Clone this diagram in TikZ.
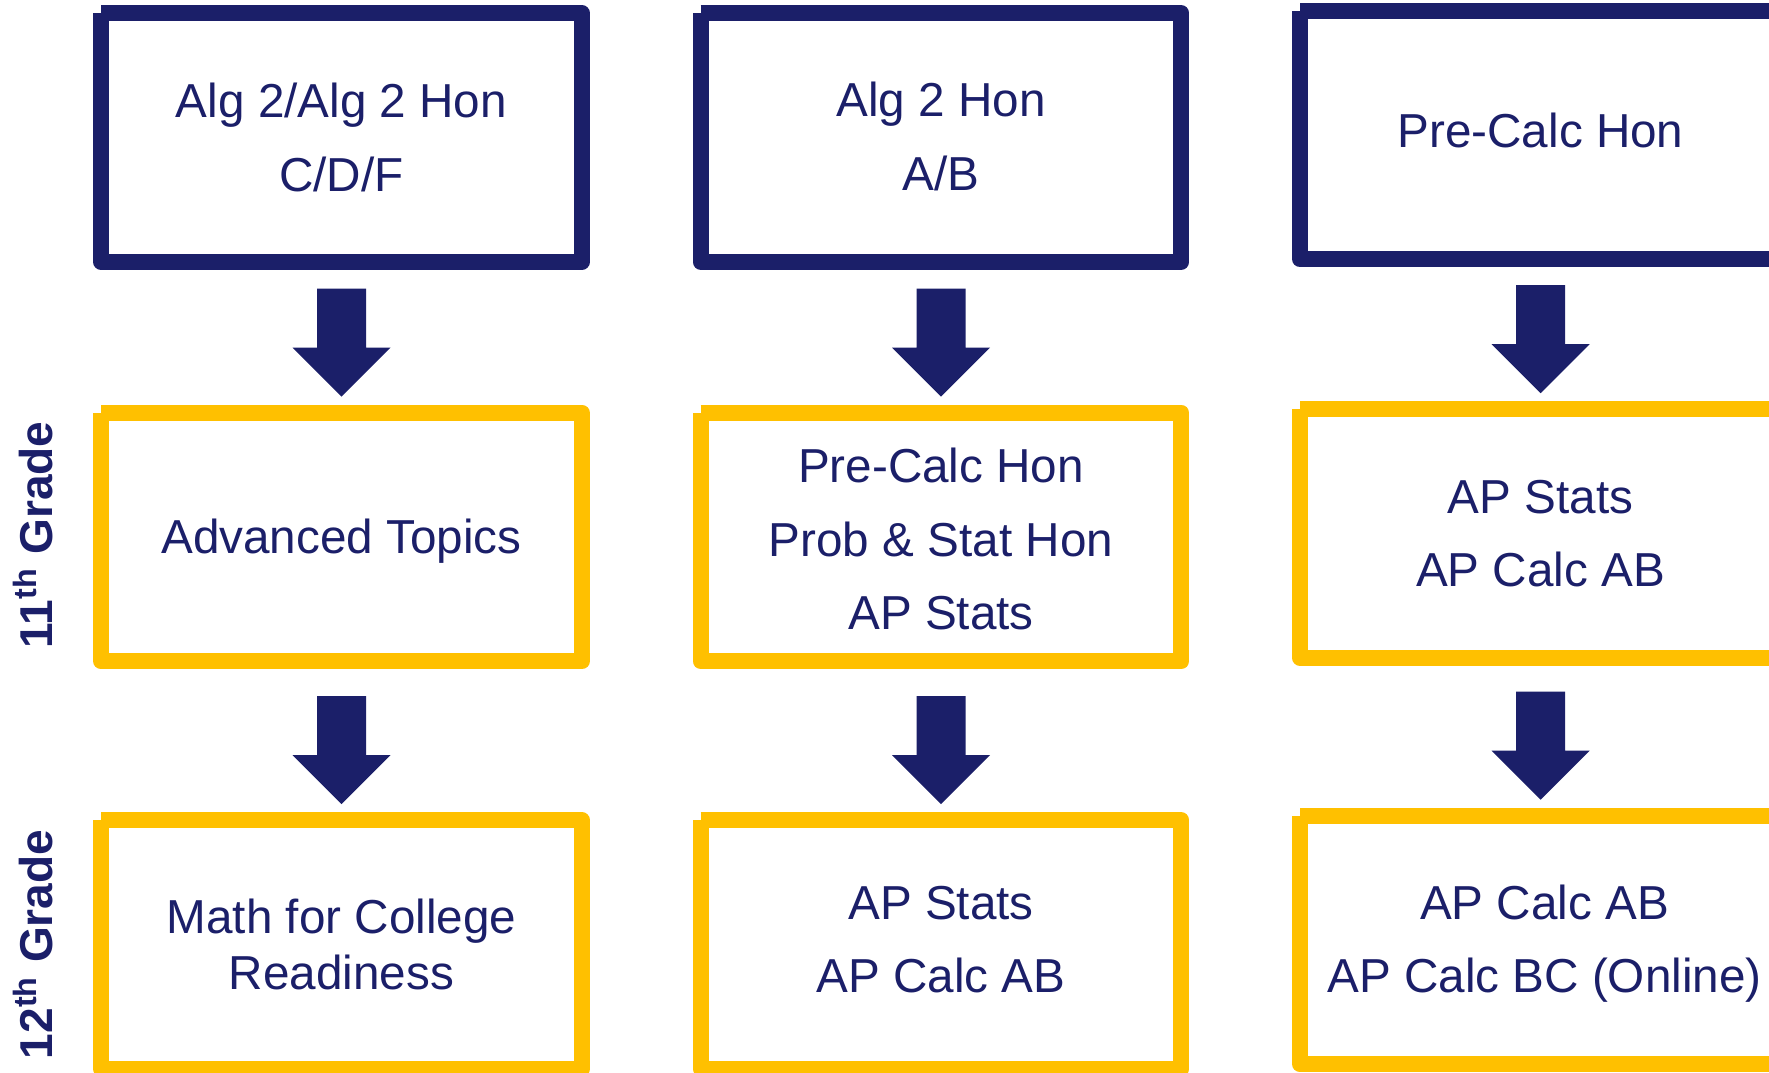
\documentclass[tikz,border=0pt]{standalone}
\usepackage{fontspec}
\setmainfont{Liberation Sans}
\usetikzlibrary{calc}
\definecolor{navy}{HTML}{1B1F69}
\definecolor{gold}{HTML}{FFC000}
\newcommand\drawframe[2]{\draw[#2, line width=0.16cm, line join=round, line cap=butt] (#1.north west) -- (#1.north east) -- (#1.south east) -- (#1.south west) -- (#1.north west);}
\newcommand\blockarrow[2]{\fill[navy] ($(#1.south |- #2.north)+(-24.5,-124)$) -- ($(#1.south |- #2.north)+(24.5,-124)$) -- ($(#1.south |- #2.north)+(24.5,-65)$) -- ($(#1.south |- #2.north)+(49,-65)$) -- ($(#1.south |- #2.north)+(0,-16)$) -- ($(#1.south |- #2.north)+(-49,-65)$) -- ($(#1.south |- #2.north)+(-24.5,-65)$) -- cycle;}
\begin{document}
\begin{tikzpicture}[x=0.01cm,y=-0.01cm,
  course/.style={minimum width=4.79cm, minimum height=2.47cm, inner sep=0pt},
  ctext/.style={inner sep=0pt, align=center, text=navy, font=\fontsize{13.55pt}{20.8pt}\selectfont},
  tight/.style={font=\fontsize{13.55pt}{16.1pt}\selectfont},
  grade/.style={rotate=90, anchor=base, inner sep=0pt, text=navy, font=\fontsize{13.1pt}{15pt}\selectfont\bfseries}]
\useasboundingbox (0,0) rectangle (1769,1072);
\clip (0,0) rectangle (1769,1072);
\fill[white] (0,0) rectangle (1769,1072);
% boxes
\node[course] (a1) at (341.5,137.5) {};
\node[course] (b1) at (941,137.5) {};
\node[course] (c1) at (1540.5,135) {};
\node[course] (a2) at (341.5,537) {};
\node[course] (b2) at (941,537) {};
\node[course] (c2) at (1540.5,533.5) {};
\node[course] (a3) at (341.5,944.5) {};
\node[course] (b3) at (941,944.5) {};
\node[course] (c3) at (1540.5,940) {};
% texts
\node[ctext] (a1t) at ($(a1)+(0,0)$) {Alg 2/Alg 2 Hon\\C/D/F};
\node[ctext] (b1t) at ($(b1)+(0,-1)$) {Alg 2 Hon\\A/B};
\node[ctext] (c1t) at ($(c1)+(0,-4.5)$) {Pre-Calc Hon};
\node[ctext] (a2t) at ($(a2)+(0,4.5)$) {Advanced Topics};
\node[ctext] (b2t) at ($(b2)+(0,2)$) {Pre-Calc Hon\\Prob \& Stat Hon\\AP Stats};
\node[ctext] (c2t) at ($(c2)+(0,0)$) {AP Stats\\AP Calc AB};
\node[ctext, tight] (a3t) at ($(a3)+(0,0)$) {Math for College\\Readiness};
\node[ctext] (b3t) at ($(b3)+(0,-4.5)$) {AP Stats\\AP Calc AB};
\node[ctext] (c3t) at ($(c3)+(4,4)$) {AP Calc AB\\AP Calc BC (Online)};
% frames
\drawframe{a1}{navy}
\drawframe{b1}{navy}
\drawframe{c1}{navy}
\drawframe{a2}{gold}
\drawframe{b2}{gold}
\drawframe{c2}{gold}
\drawframe{a3}{gold}
\drawframe{b3}{gold}
\drawframe{c3}{gold}
% arrows
\blockarrow{a1}{a2}
\blockarrow{b1}{b2}
\blockarrow{c1}{c2}
\blockarrow{a2}{a3}
\blockarrow{b2}{b3}
\blockarrow{c2}{c3}
% grade labels
\node[grade] (g11) at (52,535) {11\textsuperscript{th} Grade};
\node[grade] (g12) at (52,944.5) {12\textsuperscript{th} Grade};
\end{tikzpicture}
\end{document}
